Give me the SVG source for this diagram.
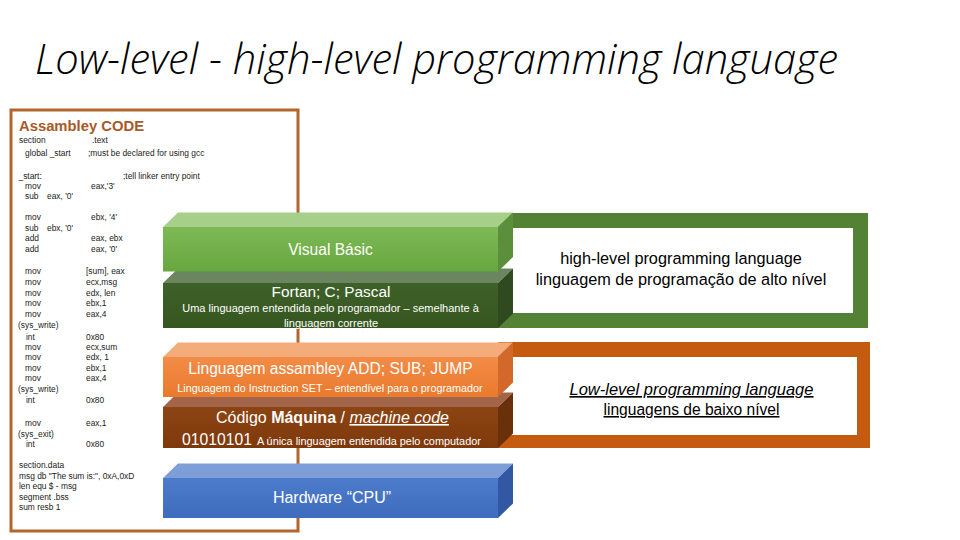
<svg xmlns="http://www.w3.org/2000/svg" width="960" height="540" viewBox="0 0 960 540">
<defs>
<style>
.code{font-family:"Liberation Sans",Arial,sans-serif;font-size:8.4px;fill:#1a1a1a}
.lt{font-family:"Liberation Sans",Arial,sans-serif;fill:#ffffff;text-anchor:middle}
.rt{font-family:"Liberation Sans",Arial,sans-serif;fill:#000000;text-anchor:middle}
</style>
<linearGradient id="gVB" x1="0" y1="0" x2="0" y2="1"><stop offset="0" stop-color="#7DBA55"/><stop offset="1" stop-color="#68A63F"/></linearGradient>
<linearGradient id="gFO" x1="0" y1="0" x2="0" y2="1"><stop offset="0" stop-color="#3E6129"/><stop offset="1" stop-color="#36561F"/></linearGradient>
<linearGradient id="gAS" x1="0" y1="0" x2="0" y2="1"><stop offset="0" stop-color="#F28C47"/><stop offset="1" stop-color="#EA7A2C"/></linearGradient>
<linearGradient id="gCM" x1="0" y1="0" x2="0" y2="1"><stop offset="0" stop-color="#8C4413"/><stop offset="1" stop-color="#7E390B"/></linearGradient>
<linearGradient id="gHW" x1="0" y1="0" x2="0" y2="1"><stop offset="0" stop-color="#4C7CCB"/><stop offset="1" stop-color="#3F6CBE"/></linearGradient>
</defs>
<rect width="960" height="540" fill="#ffffff"/>

<text x="35" y="74" font-family="'Open Sans','Liberation Sans',sans-serif" font-style="italic" font-weight="300" font-size="42" fill="#000" textLength="803" lengthAdjust="spacingAndGlyphs">Low-level - high-level programming language</text>

<g id="assembly-code">
<rect x="11" y="110" width="287" height="421" fill="#ffffff" stroke="#B4642D" stroke-width="3"/>
<text x="19" y="131" font-family="'Liberation Sans',Arial,sans-serif" font-weight="bold" font-size="14.8" fill="#A85A28">Assambley CODE</text>
<text class="code" x="19" y="143">section</text><text class="code" x="92" y="143">.text</text>
<text class="code" x="25" y="155.5">global _start</text><text class="code" x="88" y="155.5">;must be declared for using gcc</text>
<text class="code" x="18.5" y="178.5">_start:</text><text class="code" x="123" y="178.5">;tell linker entry point</text>
<text class="code" x="25" y="189">mov</text><text class="code" x="91" y="189">eax,'3'</text>
<text class="code" x="25" y="199">sub</text><text class="code" x="47" y="199">eax, '0'</text>
<text class="code" x="25" y="219.5">mov</text><text class="code" x="91" y="219.5">ebx, '4'</text>
<text class="code" x="25" y="230.5">sub</text><text class="code" x="47" y="230.5">ebx, '0'</text>
<text class="code" x="25" y="240.5">add</text><text class="code" x="91" y="240.5">eax, ebx</text>
<text class="code" x="25" y="251.5">add</text><text class="code" x="91" y="251.5">eax, '0'</text>
<text class="code" x="25" y="274">mov</text><text class="code" x="86" y="274">[sum], eax</text>
<text class="code" x="25" y="284.5">mov</text><text class="code" x="86" y="284.5">ecx,msg</text>
<text class="code" x="25" y="295.5">mov</text><text class="code" x="86" y="295.5">edx, len</text>
<text class="code" x="25" y="305.5">mov</text><text class="code" x="86" y="305.5">ebx,1</text>
<text class="code" x="25" y="316.5">mov</text><text class="code" x="86" y="316.5">eax,4</text>
<text class="code" x="18" y="327.5">(sys_write)</text>
<text class="code" x="26" y="339.5">int</text><text class="code" x="86" y="339.5">0x80</text>
<text class="code" x="25" y="349.5">mov</text><text class="code" x="86" y="349.5">ecx,sum</text>
<text class="code" x="25" y="359.5">mov</text><text class="code" x="86" y="359.5">edx, 1</text>
<text class="code" x="25" y="370.5">mov</text><text class="code" x="86" y="370.5">ebx,1</text>
<text class="code" x="25" y="380.5">mov</text><text class="code" x="86" y="380.5">eax,4</text>
<text class="code" x="18" y="391.5">(sys_write)</text>
<text class="code" x="26" y="402.5">int</text><text class="code" x="86" y="402.5">0x80</text>
<text class="code" x="25" y="425.5">mov</text><text class="code" x="86" y="425.5">eax,1</text>
<text class="code" x="18" y="436.5">(sys_exit)</text>
<text class="code" x="26" y="446.5">int</text><text class="code" x="86" y="446.5">0x80</text>
<text class="code" x="19" y="468">section.data</text>
<text class="code" x="19" y="478.5">msg db "The sum is:", 0xA,0xD</text>
<text class="code" x="19" y="489">len equ $ - msg</text>
<text class="code" x="19" y="499.5">segment .bss</text>
<text class="code" x="19" y="510">sum resb 1</text>
</g>

<g id="high-level-panel">
<rect x="498" y="213" width="370" height="115" fill="#548235"/>
<rect x="498" y="228" width="355" height="85" fill="#ffffff"/>
<text class="rt" x="681" y="264" font-size="16.3">high-level programming language</text>
<text class="rt" x="681" y="285" font-size="16.3">linguagem de programação de alto nível</text>
</g>

<g id="low-level-panel">
<rect x="498" y="342" width="372" height="106" fill="#C55A11"/>
<rect x="498" y="357" width="359" height="78" fill="#ffffff"/>
<text class="rt" x="691.5" y="395" font-size="16.5" font-style="italic" text-decoration="underline">Low-level programming language</text>
<text class="rt" x="691.5" y="415" font-size="15.6" text-decoration="underline">linguagens de baixo nível</text>
</g>

<g id="hardware">
<polygon points="163,478 178,463.5 513,463.5 498,478" fill="#7E9ED8"/>
<polygon points="498,478 513,463.5 513,503.5 498,518" fill="#3358A3"/>
<rect x="163" y="478" width="335" height="40" fill="url(#gHW)"/>
<text class="lt" x="332" y="503" font-size="16">Hardware “CPU”</text>
</g>

<g id="codigo-maquina">
<polygon points="163,407 178,392.5 513,392.5 498,407" fill="#A3654A"/>
<polygon points="498,407 513,392.5 513,433.5 498,448" fill="#6A300A"/>
<rect x="163" y="407" width="335" height="41" fill="url(#gCM)"/>
<text class="lt" x="332.5" y="423" font-size="16">Código <tspan font-weight="bold">Máquina</tspan> / <tspan font-style="italic" text-decoration="underline">machine code</tspan></text>
<text class="lt" x="331.5" y="445"><tspan font-size="15.7">01010101</tspan><tspan font-size="10.9" dx="5">A única linguagem entendida pelo computador</tspan></text>
</g>

<g id="assambley">
<polygon points="163,357 178,342.5 513,342.5 498,357" fill="#F4AC7B"/>
<polygon points="498,357 513,342.5 513,382.5 498,397" fill="#D2692A"/>
<rect x="163" y="357" width="335" height="40" fill="url(#gAS)"/>
<text class="lt" x="330.5" y="374" font-size="15.6">Linguagem assambley ADD; SUB; JUMP</text>
<text class="lt" x="330" y="392" font-size="10.8">Linguagem do Instruction SET – entendível para o programador</text>
</g>

<g id="fortan">
<polygon points="163,283 178,268.5 513,268.5 498,283" fill="#6A8560"/>
<polygon points="498,283 513,268.5 513,313.5 498,328" fill="#2E4A1E"/>
<rect x="163" y="283" width="335" height="45" fill="url(#gFO)"/>
<text class="lt" x="331" y="296.5" font-size="15.4">Fortan; C; Pascal</text>
<text class="lt" x="330.5" y="312" font-size="11">Uma linguagem entendida pelo programador – semelhante à</text>
<text class="lt" x="331" y="327" font-size="11">linguagem corrente</text>
</g>

<g id="visual-basic">
<polygon points="163,227 178,212.5 513,212.5 498,227" fill="#A6CF8A"/>
<polygon points="498,227 513,212.5 513,257 498,271.5" fill="#5C8F3B"/>
<rect x="163" y="227" width="335" height="44.5" fill="url(#gVB)"/>
<text class="lt" x="330.5" y="255" font-size="15.6">Visual Básic</text>
</g>

<g id="connectors"></g>
</svg>
